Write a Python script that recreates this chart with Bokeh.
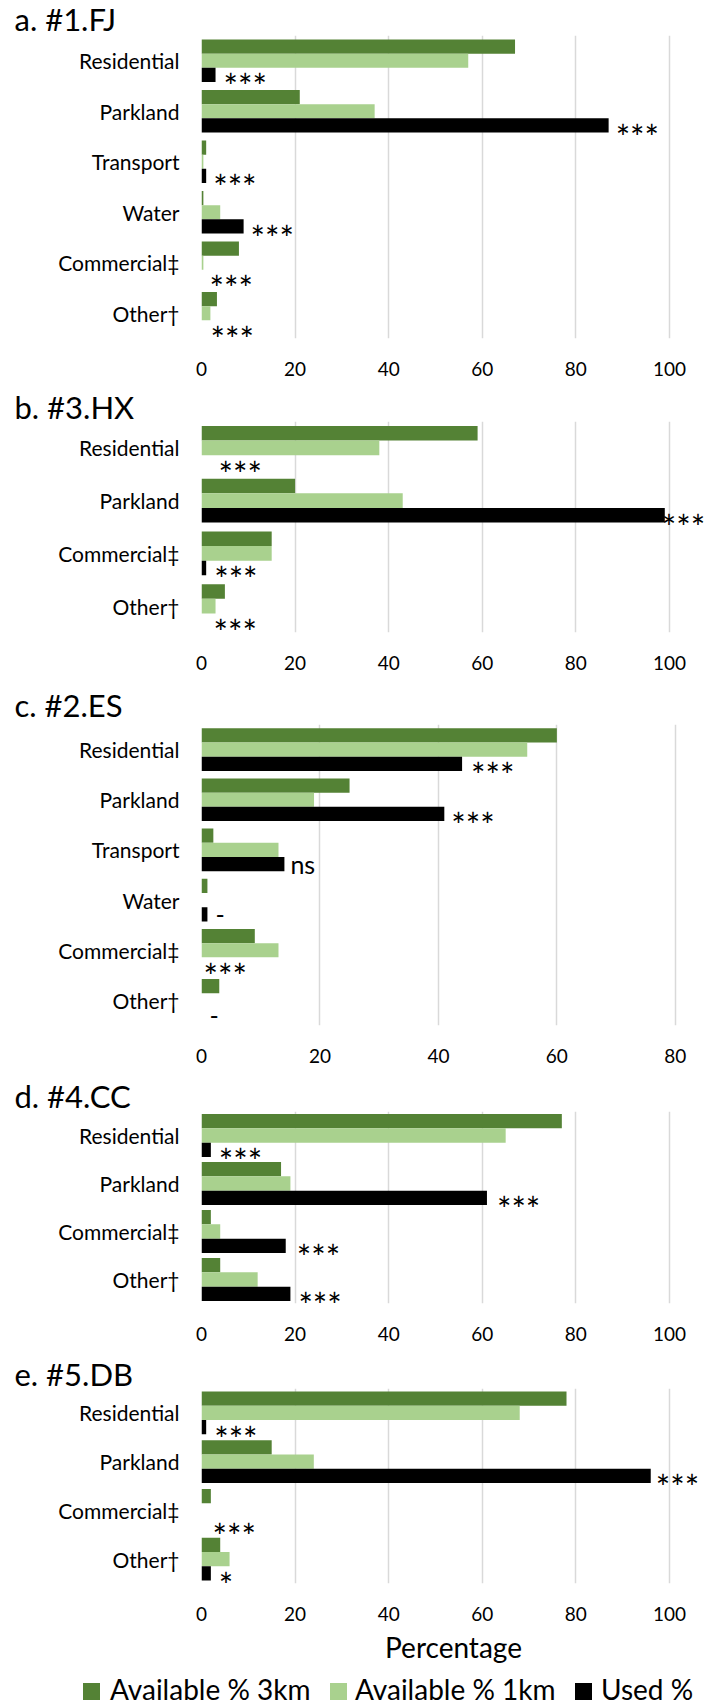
from bokeh.plotting import figure
from bokeh.layouts import column
from bokeh.models import ColumnDataSource, FactorRange, Range1d, FixedTicker, Div
from bokeh.transform import dodge
from bokeh.embed import file_html
from bokeh.resources import INLINE

FONT = "Lato"
C3 = "#548235"   # available within 3 km
C1 = "#a9d18e"   # available within 1 km
CU = "#000000"   # used

# ---- data: land-use shares (%) per site, categories listed top to bottom ----
cats_fj = ["Residential", "Parkland", "Transport", "Water", "Commercial‡", "Other†"]
avail3_fj = [67, 21, 1, 0.4, 8, 3.3]
avail1_fj = [57, 37, 0.4, 4, 0.4, 1.9]
used_fj = [3, 87, 1, 9, 0, 0]
sig_fj = ["***", "***", "***", "***", "***", "***"]

cats_hx = ["Residential", "Parkland", "Commercial‡", "Other†"]
avail3_hx = [59, 20, 15, 5]
avail1_hx = [38, 43, 15, 3]
used_hx = [0, 99, 1, 0]
sig_hx = ["***", "***", "***", "***"]

cats_es = ["Residential", "Parkland", "Transport", "Water", "Commercial‡", "Other†"]
avail3_es = [60, 25, 2, 1, 9, 3]
avail1_es = [55, 19, 13, 0, 13, 0]
used_es = [44, 41, 14, 1, 0, 0]
sig_es = ["***", "***", "ns", "-", "***", "-"]

cats_cc = ["Residential", "Parkland", "Commercial‡", "Other†"]
avail3_cc = [77, 17, 2, 4]
avail1_cc = [65, 19, 4, 12]
used_cc = [2, 61, 18, 19]
sig_cc = ["***", "***", "***", "***"]

cats_db = ["Residential", "Parkland", "Commercial‡", "Other†"]
avail3_db = [78, 15, 2, 4]
avail1_db = [68, 24, 0, 6]
used_db = [1, 96, 0, 2]
sig_db = ["***", "***", "***", "*"]

ticks_100 = [0, 20, 40, 60, 80, 100]
ticks_80 = [0, 20, 40, 60, 80]

series_names = ["Available % 3km", "Available % 1km", "Used %"]
series_colors = [C3, C1, CU]

# ---- styling of the significance markers ----
gap_fj = [8, 7, 7, 7, 8, 9]          # pixel gap after the "used" bar
gap_hx = [17, -3, 8, 12]
gap_es = [9, 7, 6, 8, 2, 8]
gap_cc = [8, 10, 11, 8]
gap_db = [8, 5, 11, 8]
SIG_DY = {"***": 11, "*": 11, "ns": 0, "-": 1}
SIG_SIZE = {"***": "34px", "*": "34px", "ns": "25px", "-": "25px"}


def panel(title, cats, a3, a1, used, sig, gaps, ticks, x_end, height, top,
          bottom, bar_h, title_standoff, xlabel=None):
    src = ColumnDataSource(dict(cat=cats, a3=a3, a1=a1, used=used, sig=sig,
                                gap=gaps, dy=[SIG_DY[s] for s in sig],
                                fs=[SIG_SIZE[s] for s in sig]))
    p = figure(width=705, height=height,
               y_range=FactorRange(*reversed(cats)),
               x_range=Range1d(0, x_end),
               output_backend="svg", toolbar_location=None,
               min_border_left=201, min_border_right=0,
               min_border_top=top, min_border_bottom=bottom)
    p.outline_line_color = None
    p.background_fill_color = "white"
    p.border_fill_color = "white"

    p.title.text = title
    p.title.align = "left"
    p.title.offset = -187
    p.title.standoff = title_standoff
    p.title.text_font = FONT
    p.title.text_font_size = "31px"
    p.title.text_font_style = "normal"
    p.title.text_color = "black"

    for col, off, color in (("a3", bar_h, C3), ("a1", 0, C1), ("used", -bar_h, CU)):
        p.hbar(y=dodge("cat", off, range=p.y_range), left=0, right=col,
               height=bar_h, source=src, fill_color=color, line_color=None)
    p.text(x="used", y=dodge("cat", -bar_h, range=p.y_range), text="sig",
           x_offset="gap", y_offset="dy", source=src,
           text_font={"value": FONT}, text_font_size="fs",
           text_color="black", text_baseline="alphabetic", text_align="left")

    p.ygrid.visible = False
    p.xgrid.grid_line_color = "#d9d9d9"
    p.xgrid.grid_line_width = 1.5

    xa = p.xaxis[0]
    xa.ticker = FixedTicker(ticks=ticks)
    xa.axis_line_color = None
    xa.major_tick_line_color = None
    xa.minor_tick_line_color = None
    xa.major_tick_out = 0
    xa.major_tick_in = 0
    xa.major_label_standoff = 23
    xa.major_label_text_font = FONT
    xa.major_label_text_font_size = "19px"
    xa.major_label_text_color = "black"
    if xlabel:
        xa.axis_label = xlabel
        xa.axis_label_text_font = FONT
        xa.axis_label_text_font_size = "28px"
        xa.axis_label_text_font_style = "normal"
        xa.axis_label_text_color = "black"
        xa.axis_label_standoff = 6

    ya = p.yaxis[0]
    ya.axis_line_color = None
    ya.major_tick_line_color = None
    ya.major_tick_out = 0
    ya.major_tick_in = 0
    ya.major_label_standoff = 22
    ya.major_label_text_font = FONT
    ya.major_label_text_font_size = "21px"
    ya.major_label_text_color = "black"
    return p


pa = panel("a. #1.FJ", cats_fj, avail3_fj, avail1_fj, used_fj, sig_fj, gap_fj,
           ticks_100, 107.7, 388, 34, 50, 0.282, -4.6)
pb = panel("b. #3.HX", cats_hx, avail3_hx, avail1_hx, used_hx, sig_hx, gap_hx,
           ticks_100, 107.7, 294, 33, 50, 0.275, -8.6)
pc = panel("c. #2.ES", cats_es, avail3_es, avail1_es, used_es, sig_es, gap_es,
           ticks_80, 85.1, 396, 42, 53, 0.284, 0.4)
pd = panel("d. #4.CC", cats_cc, avail3_cc, avail1_cc, used_cc, sig_cc, gap_cc,
           ticks_100, 107.7, 278, 33, 53, 0.30, -7.6)
pe = panel("e. #5.DB", cats_db, avail3_db, avail1_db, used_db, sig_db, gap_db,
           ticks_100, 107.7, 312, 32, 85, 0.293, -9.6, xlabel="Percentage")

# ---- shared legend strip ----
swatch_left = [83, 330, 575]
label_left = [110, 355, 601]
parts = []
for name, color, sl, tl in zip(series_names, series_colors, swatch_left, label_left):
    parts.append(f'<span style="position:absolute;left:{sl}px;top:15px;'
                 f'width:17px;height:17px;background:{color};"></span>')
    parts.append(f'<span style="position:absolute;left:{tl}px;top:7px;'
                 f'line-height:28px;white-space:nowrap;">{name}</span>')
legend_html = ('<div style="position:relative;width:705px;height:38px;'
               f'font-family:{FONT};font-size:28px;color:#000;">'
               + "".join(parts) + "</div>")
leg = Div(text=legend_html, width=705, height=38, margin=0)

layout = column(pa, pb, pc, pd, pe, leg, spacing=0)
open("out.html", "w").write(file_html(layout, INLINE))
